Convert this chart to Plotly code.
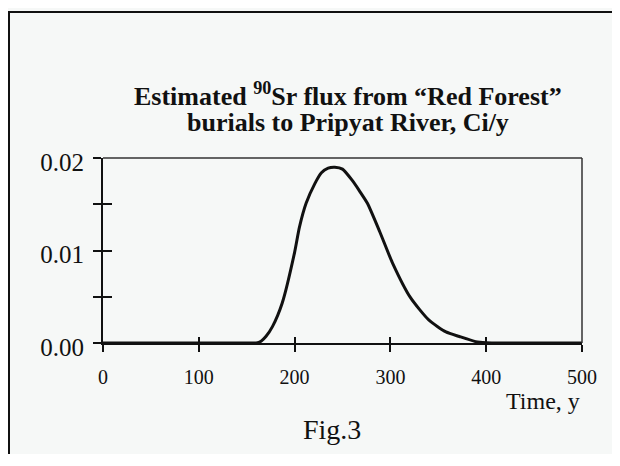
import plotly.graph_objects as go

# Data
time_y = [0, 100, 150, 160, 165, 170, 177, 187, 200, 205, 212, 221, 228, 235, 242,
          250, 260, 268, 276, 289, 302, 321, 340, 358, 372, 389, 400, 420, 500]
flux_ci_y = [0, 0, 0, 0, 0.0002, 0.0007, 0.0018, 0.0043, 0.0098, 0.0125, 0.0151,
             0.0172, 0.0184, 0.0189, 0.0190, 0.0188, 0.0176, 0.0164, 0.0151, 0.0120,
             0.0087, 0.0049, 0.0025, 0.0012, 0.0007, 0.00015, 0.00003, 0, 0]

x_ticks = [0, 100, 200, 300, 400, 500]
y_ticks = [0, 0.005, 0.01, 0.015, 0.02]
y_tick_text = ["0.00", " ", "0.01", " ", "0.02"]

BG = "#f6f8f7"
INK = "#111111"
SERIF = "Liberation Serif, Times New Roman, serif"

# the page body adds an 8 px offset; screenshot pixels are converted to paper units
def px(xs):
    return (xs - 103) / 479


def py(ys):
    return (343 - ys) / 185


fig = go.Figure()
fig.add_trace(go.Scatter(x=time_y, y=flux_ci_y, mode="lines",
                         line=dict(color=INK, width=3, shape="spline", smoothing=0.6),
                         showlegend=False, hoverinfo="skip"))
# transparent copy on the overlay axes so their inward tick marks are drawn
fig.add_trace(go.Scatter(x=time_y, y=flux_ci_y, mode="lines", xaxis="x2", yaxis="y2",
                         line=dict(color="rgba(0,0,0,0)", width=0),
                         showlegend=False, hoverinfo="skip"))

fig.update_layout(
    width=612, height=446,
    margin=dict(l=95, r=38, t=150, b=111),
    paper_bgcolor=BG, plot_bgcolor=BG,
    xaxis=dict(range=[0, 500], tickvals=x_ticks, ticks="outside", ticklen=7,
               tickwidth=1.5, tickcolor=INK, showline=True, linecolor=INK,
               linewidth=2, showgrid=False, zeroline=False,
               tickfont=dict(family=SERIF, size=20, color=INK),
               ticklabelstandoff=8),
    yaxis=dict(range=[0, 0.02], tickvals=y_ticks, ticktext=y_tick_text,
               ticks="outside", ticklen=8, tickwidth=2, tickcolor=INK,
               showline=True, linecolor=INK, linewidth=2, showgrid=False,
               zeroline=False, tickfont=dict(family=SERIF, size=25, color=INK),
               ticklabelstandoff=4, ticklabelshift=4),
    xaxis2=dict(overlaying="x", range=[0, 500], tickvals=x_ticks,
                ticks="inside", ticklen=6, tickwidth=1.5, tickcolor=INK,
                showticklabels=False, showline=False, showgrid=False,
                zeroline=False, side="bottom", anchor="y2"),
    yaxis2=dict(overlaying="y", range=[0, 0.02], tickvals=y_ticks,
                ticks="inside", ticklen=9, tickwidth=2, tickcolor=INK,
                showticklabels=False, showline=False, showgrid=False,
                zeroline=False, side="left", anchor="x2"),
    shapes=[
        dict(type="line", xref="x domain", yref="y domain", x0=0, x1=1, y0=1, y1=1,
             line=dict(color="#333333", width=1.5)),
        dict(type="line", xref="x domain", yref="y domain", x0=1, x1=1, y0=0, y1=1,
             line=dict(color="#333333", width=1.5)),
        # outer figure frame (top and left edges visible in the reference)
        dict(type="line", xref="paper", yref="paper",
             x0=px(8), x1=px(640), y0=py(12), y1=py(12),
             line=dict(color=INK, width=2)),
        dict(type="line", xref="paper", yref="paper",
             x0=px(9), x1=px(9), y0=py(11), y1=py(480),
             line=dict(color=INK, width=2)),
    ],
    annotations=[
        dict(text="<b>Estimated <sup>90</sup>Sr flux from \u201cRed Forest\u201d</b>",
             xref="paper", yref="paper", x=px(348), y=py(94),
             xanchor="center", yanchor="middle", showarrow=False,
             font=dict(family=SERIF, size=26, color=INK)),
        dict(text="<b>burials to Pripyat River, Ci/y</b>",
             xref="paper", yref="paper", x=px(348), y=py(123),
             xanchor="center", yanchor="middle", showarrow=False,
             font=dict(family=SERIF, size=26, color=INK)),
        dict(text="Time, y", xref="paper", yref="paper", x=px(582),
             y=py(401), xanchor="right", yanchor="middle", showarrow=False,
             font=dict(family=SERIF, size=24, color=INK)),
        dict(text="Fig.3", xref="paper", yref="paper", x=px(332),
             y=py(429), xanchor="center", yanchor="middle", showarrow=False,
             font=dict(family=SERIF, size=28, color=INK)),
    ],
)

fig.write_html("out.html")
